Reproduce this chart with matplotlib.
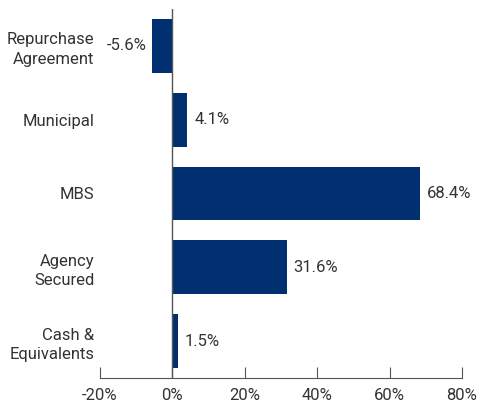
import matplotlib
matplotlib.use("Agg")
import matplotlib.pyplot as plt

categories = ["Repurchase\nAgreement", "Municipal", "MBS", "Agency\nSecured", "Cash &\nEquivalents"]
values = [-5.6, 4.1, 68.4, 31.6, 1.5]
xticks = [-20, 0, 20, 40, 60, 80]

BAR_COLOR = "#003070"
TEXT_COLOR = "#333333"
AXIS_COLOR = "#555555"
FONT_SIZE = 12

plt.rcParams["font.family"] = ["Roboto", "DejaVu Sans"]

fig = plt.figure(figsize=(4.8, 4.09), dpi=100)
ax = fig.add_axes([0.2083, 0.0758, 0.7542, 0.9022])

pos = list(range(len(categories)))
ax.barh(pos, values, height=0.73, color=BAR_COLOR)

for y, v in zip(pos, values):
    if v < 0:
        ax.annotate(f"{v:.1f}%", (v, y), xytext=(-4, 0), textcoords="offset points",
                    ha="right", va="center", fontsize=FONT_SIZE, color=TEXT_COLOR)
    else:
        ax.annotate(f"{v:.1f}%", (v, y), xytext=(5, 0), textcoords="offset points",
                    ha="left", va="center", fontsize=FONT_SIZE, color=TEXT_COLOR)

ax.set_xlim(-20, 80)
ax.set_ylim(len(categories) - 0.5, -0.5)
ax.set_xticks(xticks)
ax.set_xticklabels([f"{t}%" for t in xticks], fontsize=FONT_SIZE, color=TEXT_COLOR)
ax.set_yticks(pos)
ax.set_yticklabels(categories, fontsize=FONT_SIZE, color=TEXT_COLOR, linespacing=1.35)

ax.tick_params(axis="x", direction="in", length=8, color=AXIS_COLOR, pad=7)
ax.tick_params(axis="y", length=0, pad=4)

for side in ["top", "right", "left"]:
    ax.spines[side].set_visible(False)
ax.spines["bottom"].set_color(AXIS_COLOR)
ax.axvline(0, color=AXIS_COLOR, linewidth=1)

fig.savefig("out.png", dpi=100)
